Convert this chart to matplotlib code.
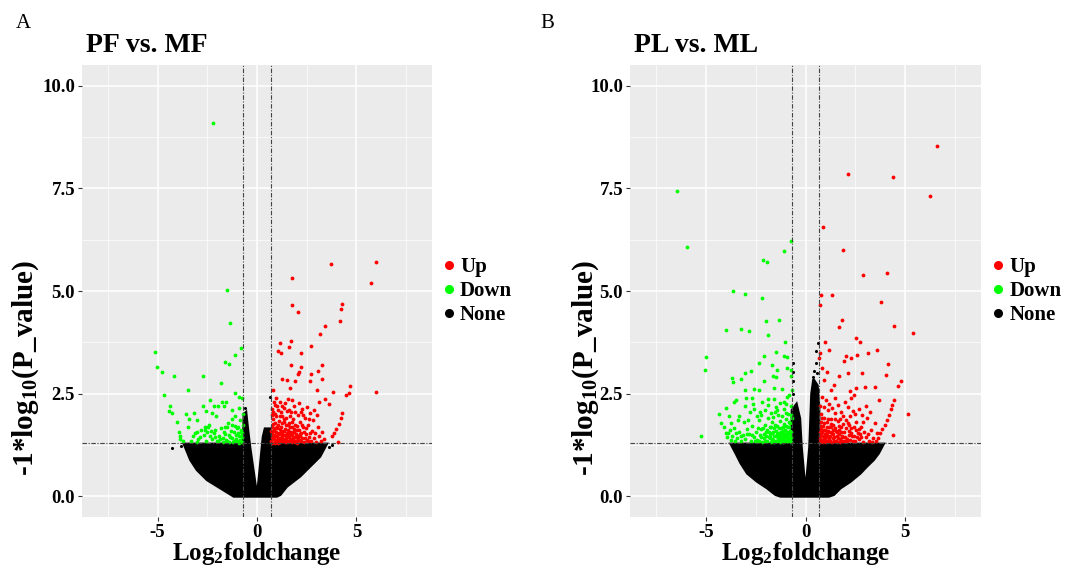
import matplotlib
matplotlib.use("Agg")
import matplotlib.pyplot as plt
from matplotlib.lines import Line2D

plt.rcParams['font.family'] = ['Liberation Serif', 'DejaVu Serif']
plt.rcParams['mathtext.fontset'] = 'custom'
plt.rcParams['mathtext.rm'] = 'Liberation Serif:bold'
plt.rcParams['mathtext.it'] = 'Liberation Serif:bold'
plt.rcParams['mathtext.bf'] = 'Liberation Serif:bold'
plt.rcParams['mathtext.default'] = 'rm'

# ---------------- data (log2 fold change, -log10 p) ----------------
titles = ["PF vs. MF", "PL vs. ML"]
panel_letters = ["A", "B"]
legend_labels = ["Up", "Down", "None"]
x_ticks = [-5, 0, 5]
y_ticks = [0.0, 2.5, 5.0, 7.5, 10.0]
fc_cut = 0.68
p_cut = 1.30

# Panel A : up-regulated
a_up = [(3.71, 5.66), (5.98, 5.70), (1.74, 5.31), (5.75, 5.19), (1.77, 4.66), (4.29, 4.68),
        (4.21, 4.56), (2.04, 4.48), (4.16, 4.28), (3.44, 4.15), (3.16, 3.96), (1.14, 3.73),
        (1.71, 3.79), (1.62, 3.63), (1.04, 3.53), (1.19, 3.49), (2.19, 3.49), (2.74, 3.66),
        (1.71, 3.19), (2.22, 3.14), (2.11, 3.04), (2.04, 2.98), (3.09, 3.06), (3.26, 3.19),
        (2.71, 2.98), (1.27, 2.87), (1.52, 2.83), (1.92, 2.81), (2.69, 2.80), (3.29, 2.87),
        (1.67, 2.63), (3.01, 2.58), (3.83, 2.53), (3.44, 2.37), (3.63, 2.24), (4.68, 2.69),
        (4.62, 2.51), (4.50, 2.47), (4.26, 2.04), (4.21, 1.90), (4.10, 1.76), (3.98, 1.65),
        (3.85, 1.54), (3.78, 1.46), (4.05, 1.32), (5.99, 2.53), (0.82, 2.59),
        (0.72, 1.35), (0.74, 1.52), (0.76, 1.70), (0.78, 1.88), (0.80, 2.05), (0.82, 1.42),
        (0.85, 1.61), (0.88, 1.33), (0.90, 1.79), (0.92, 2.22), (0.95, 1.48), (0.98, 1.95),
        (1.00, 1.38), (1.03, 1.66), (1.06, 2.10), (1.08, 1.31), (1.10, 1.55), (1.13, 1.84),
        (1.16, 1.43), (1.18, 2.30), (1.20, 1.70), (1.23, 1.35), (1.26, 1.96), (1.28, 1.58),
        (1.31, 1.40), (1.34, 1.82), (1.37, 2.15), (1.40, 1.50), (1.42, 1.33), (1.45, 1.73),
        (1.48, 1.92), (1.51, 1.45), (1.54, 1.62), (1.57, 2.38), (1.60, 1.36), (1.63, 1.78),
        (1.66, 1.52), (1.69, 2.05), (1.72, 1.41), (1.75, 1.68), (1.78, 1.32), (1.81, 1.88),
        (1.84, 1.56), (1.87, 2.20), (1.90, 1.44), (1.93, 1.75), (1.96, 1.34), (2.00, 1.62),
        (2.04, 1.98), (2.08, 1.48), (2.12, 1.38), (2.16, 1.80), (2.20, 1.55), (2.24, 2.12),
        (2.28, 1.42), (2.32, 1.68), (2.36, 1.33), (2.40, 1.90), (2.45, 1.52), (2.50, 1.38),
        (2.55, 1.74), (2.60, 1.45), (2.65, 2.02), (2.70, 1.35), (2.75, 1.60), (2.80, 1.85),
        (2.86, 1.42), (2.92, 1.55), (2.98, 1.32), (3.05, 1.70), (3.12, 1.46), (3.20, 1.36),
        (3.28, 1.58), (3.35, 1.40), (0.73, 1.44), (0.79, 1.60), (0.87, 1.50), (0.96, 1.58),
        (1.02, 1.46), (1.11, 1.37), (1.19, 1.52), (1.27, 1.46), (1.36, 1.60), (1.44, 1.39),
        (1.52, 1.55), (1.62, 1.47), (1.71, 1.58), (1.83, 1.38), (1.95, 1.52), (2.06, 1.40),
        (2.18, 1.48), (0.75, 1.98), (0.84, 2.30), (0.95, 2.40), (1.05, 1.75), (1.15, 1.95),
        (1.25, 2.20), (1.38, 1.88), (1.50, 2.08), (1.65, 1.95), (1.78, 2.35), (2.10, 2.28),
        (2.30, 1.98), (2.50, 2.18), (2.62, 1.88), (2.85, 2.10), (3.00, 1.98), (3.10, 2.30),
        (0.71, 1.60), (0.77, 1.31), (0.81, 1.76), (0.86, 1.39), (0.89, 1.67), (0.93, 1.30),
        (0.99, 1.70), (1.04, 1.52), (1.07, 1.42), (1.14, 1.65), (1.17, 1.32), (1.21, 1.60),
        (1.24, 1.78), (1.29, 1.34), (1.33, 1.50), (1.39, 1.36), (1.43, 1.64), (1.47, 1.47),
        (1.53, 1.32), (1.56, 1.74), (1.59, 1.58), (1.64, 1.40), (1.68, 1.70), (1.74, 1.49),
        (1.77, 1.80), (1.80, 1.42), (1.86, 1.64), (1.89, 1.33), (1.94, 1.44), (1.99, 1.72),
        (2.02, 1.31), (2.09, 1.62), (2.14, 1.52), (2.22, 1.34), (2.26, 1.74), (2.34, 1.58),
        (2.42, 1.42), (2.48, 1.66), (2.58, 1.34), (2.68, 1.54), (0.76, 2.14), (0.88, 2.00),
        (1.01, 2.20), (1.21, 2.05), (1.41, 2.28), (1.61, 2.10), (1.92, 2.06), (2.20, 2.05)]

# Panel A : down-regulated
a_down = [(-2.21, 9.09), (-1.50, 5.03), (-1.34, 4.22), (-5.15, 3.51), (-5.05, 3.16),
          (-4.80, 3.02), (-4.15, 2.94), (-2.73, 2.94), (-0.82, 3.62), (-1.12, 3.44),
          (-1.59, 3.27), (-1.42, 3.23), (-1.82, 2.76), (-3.48, 2.59), (-4.70, 2.46),
          (-1.09, 2.51), (-0.89, 2.43), (-4.40, 2.21), (-4.45, 2.07), (-4.25, 2.02),
          (-4.01, 1.80), (-3.91, 1.58), (-3.85, 1.46), (-3.58, 2.01), (-3.18, 2.02),
          (-3.44, 1.89), (-3.01, 1.85), (-2.37, 2.35), (-2.17, 2.20), (-1.76, 2.31),
          (-1.67, 2.19), (-1.97, 2.19), (-2.54, 2.07), (-2.24, 2.02), (-0.72, 2.00),
          (-1.12, 1.97), (-1.25, 1.88), (-2.61, 1.70), (-2.44, 1.70), (-2.51, 1.58),
          (-3.24, 1.48), (-3.03, 1.32), (-2.88, 1.44), (-2.34, 1.46), (-2.09, 1.62),
          (-1.97, 1.34), (-1.67, 1.58), (-1.51, 1.70), (-1.42, 1.50), (-1.25, 1.42),
          (-1.17, 1.58), (-1.00, 1.66), (-0.92, 1.46), (-0.84, 1.38), (-0.75, 1.54),
          (-1.00, 1.34), (-1.51, 1.34), (-3.85, 1.40), (-0.75, 1.32), (-0.80, 1.48),
          (-0.78, 1.62), (-0.88, 1.35), (-0.95, 1.55), (-1.05, 1.40), (-1.10, 1.72),
          (-1.20, 1.33), (-1.30, 1.60), (-1.35, 1.45), (-1.45, 1.78), (-1.55, 1.38),
          (-1.60, 1.52), (-1.72, 1.42), (-1.80, 1.66), (-1.90, 1.48), (-2.00, 1.35),
          (-2.15, 1.55), (-2.25, 1.40), (-2.40, 1.75), (-2.55, 1.36), (-2.65, 1.50),
          (-2.80, 1.62), (-2.95, 1.40), (-3.10, 1.55), (-3.30, 1.35), (-3.45, 1.70),
          (-3.70, 1.34), (-0.85, 1.85), (-1.25, 2.10), (-1.55, 2.30), (-2.05, 1.95),
          (-2.70, 2.20), (-0.72, 1.75), (-0.92, 2.15), (-0.74, 2.40),
          (-0.73, 1.45), (-0.82, 1.58), (-0.90, 1.30), (-0.98, 1.70), (-1.08, 1.50),
          (-1.15, 1.36), (-1.28, 1.74), (-1.40, 1.32), (-1.62, 1.68), (-1.70, 1.32),
          (-1.85, 1.40), (-2.10, 1.44), (-2.30, 1.60), (-2.60, 1.62), (-3.00, 1.58)]

# Panel A : dense non-significant cloud (outline) and scattered non-significant points
a_none_env_x = [-3.68, -0.70, -0.66, -0.55, -0.45, -0.35, -0.03, 0.03, 0.30, 0.40, 0.66,
                0.70, 3.51, 3.17, 2.67, 2.17, 1.50, 1.17, 1.00, -1.17, -1.84, -2.51,
                -3.02, -3.35]
a_none_env_y = [1.28, 1.28, 2.00, 2.05, 1.60, 1.20, 0.12, 0.12, 1.45, 1.65, 1.65,
                1.28, 1.28, 0.97, 0.73, 0.49, 0.24, 0.04, 0.00, 0.00, 0.20, 0.40,
                0.645, 0.89]
a_none = [(-4.26, 1.17), (0.64, 2.43), (-0.62, 2.00), (-0.64, 1.75), (-0.58, 2.15),
          (3.60, 1.20), (3.75, 1.25), (-3.80, 1.22)]

# Panel B : up-regulated
b_up = [(6.57, 8.53), (2.13, 7.84), (4.38, 7.77), (6.23, 7.32), (0.87, 6.55), (1.87, 5.99),
        (2.87, 5.38), (4.07, 5.44), (0.77, 4.90), (1.35, 4.90), (3.80, 4.73), (0.72, 4.65),
        (0.98, 3.76), (1.18, 3.57), (0.75, 3.49), (0.70, 3.36), (1.70, 4.12), (1.83, 4.30),
        (2.52, 3.85), (2.72, 3.75), (3.15, 3.50), (3.60, 3.56), (4.45, 4.14), (5.40, 3.98),
        (2.02, 3.42), (2.28, 3.38), (2.60, 3.44), (1.92, 3.30), (0.85, 3.13), (1.08, 3.04),
        (1.67, 2.92), (2.12, 3.01), (2.82, 3.00), (4.13, 3.23), (4.02, 2.96), (4.80, 2.81),
        (4.63, 2.69), (5.12, 2.01), (4.40, 1.50), (0.92, 2.84), (1.42, 2.72), (1.30, 2.59),
        (2.52, 2.65), (3.00, 2.66), (3.50, 2.66), (2.25, 2.57), (2.42, 2.47), (3.68, 2.35),
        (4.42, 2.35), (4.33, 2.23), (4.28, 2.12), (4.17, 1.98), (4.07, 1.86), (3.97, 1.74),
        (3.85, 1.64), (3.75, 1.54), (3.65, 1.42), (3.55, 1.34),
        (0.72, 1.33), (0.74, 1.48), (0.76, 1.65), (0.78, 1.82), (0.80, 2.00), (0.82, 1.38),
        (0.85, 1.56), (0.88, 1.72), (0.90, 1.35), (0.93, 1.92), (0.96, 1.45), (1.00, 1.62),
        (1.03, 1.33), (1.06, 1.80), (1.10, 1.50), (1.13, 2.10), (1.16, 1.40), (1.20, 1.68),
        (1.24, 1.34), (1.28, 1.88), (1.32, 1.55), (1.36, 1.42), (1.40, 1.75), (1.44, 1.36),
        (1.48, 2.02), (1.52, 1.60), (1.56, 1.46), (1.60, 1.33), (1.65, 1.84), (1.70, 1.52),
        (1.75, 1.40), (1.80, 1.70), (1.85, 1.35), (1.90, 1.95), (1.95, 1.58), (2.00, 1.44),
        (2.06, 1.34), (2.12, 1.78), (2.18, 1.50), (2.24, 1.38), (2.30, 1.66), (2.36, 2.08),
        (2.42, 1.46), (2.48, 1.35), (2.55, 1.82), (2.62, 1.55), (2.70, 1.40), (2.78, 1.70),
        (2.86, 1.33), (2.94, 1.58), (3.02, 1.45), (3.10, 1.90), (3.20, 1.36), (3.30, 1.62),
        (3.40, 1.42), (3.50, 1.78), (3.60, 1.55), (0.73, 2.20), (0.84, 2.42), (0.92, 2.18),
        (1.02, 2.35), (1.18, 2.25), (1.34, 2.15), (1.46, 2.40), (1.62, 2.22), (1.78, 2.05),
        (1.96, 2.30), (2.14, 2.18), (2.28, 2.40), (2.46, 2.00), (2.66, 2.12), (2.85, 1.98),
        (3.05, 2.20), (3.25, 2.05), (0.75, 1.40), (0.86, 1.46), (0.98, 1.38), (1.08, 1.58),
        (1.22, 1.46), (1.38, 1.62), (1.54, 1.36), (1.68, 1.62), (1.82, 1.48), (1.98, 1.36),
        (2.16, 1.60), (2.34, 1.48), (2.52, 1.62), (2.72, 1.52), (0.80, 1.55), (0.95, 1.78),
        (1.12, 1.88), (1.30, 1.70), (1.50, 1.88), (1.72, 1.88), (2.02, 1.85), (2.22, 1.95),
        (0.71, 1.56), (0.77, 1.36), (0.79, 1.72), (0.83, 1.90), (0.87, 1.33), (0.91, 1.62),
        (0.94, 1.40), (0.99, 1.52), (1.04, 1.44), (1.07, 1.70), (1.11, 1.34), (1.15, 1.60),
        (1.19, 1.42), (1.23, 1.56), (1.26, 1.76), (1.34, 1.32), (1.37, 1.52), (1.42, 1.44),
        (1.47, 1.66), (1.51, 1.34), (1.58, 1.56), (1.63, 1.42), (1.67, 1.72), (1.73, 1.32),
        (1.78, 1.58), (1.84, 1.44), (1.88, 1.76), (1.93, 1.34), (2.04, 1.66), (2.10, 1.40),
        (2.20, 1.74), (2.27, 1.54), (2.38, 1.36), (2.44, 1.70), (2.58, 1.44), (2.66, 1.64),
        (2.80, 1.44), (2.90, 1.80), (3.15, 1.52), (3.35, 1.32)]

# Panel B : down-regulated
b_down = [(-6.45, 7.44), (-5.95, 6.06), (-0.73, 6.21), (-1.10, 5.98), (-2.13, 5.75),
          (-1.93, 5.71), (-3.62, 4.99), (-3.05, 4.93), (-2.17, 4.82), (-4.00, 4.05),
          (-3.22, 4.08), (-2.83, 4.03), (-1.97, 4.27), (-1.32, 4.30), (-1.88, 3.92),
          (-1.02, 3.77), (-1.50, 3.52), (-1.08, 3.42), (-0.92, 3.40), (-2.08, 3.42),
          (-5.00, 3.40), (-5.02, 3.08), (-5.22, 1.46), (-2.33, 3.24), (-2.75, 3.06),
          (-3.02, 3.01), (-3.70, 2.89), (-3.63, 2.78), (-3.22, 2.85), (-1.67, 3.20),
          (-1.42, 3.08), (-1.62, 2.92), (-1.50, 2.90), (-0.92, 3.12), (-0.75, 3.08),
          (-0.75, 2.92), (-2.08, 2.80), (-2.33, 2.59), (-2.58, 2.61), (-3.05, 2.59),
          (-3.50, 2.35), (-2.97, 2.39), (-2.67, 2.39), (-1.87, 2.38), (-1.58, 2.63),
          (-1.18, 2.61), (-1.08, 2.31), (-0.92, 2.43), (-3.98, 2.15), (-4.33, 2.00),
          (-3.33, 1.97), (-3.03, 2.19), (-2.58, 2.12), (-2.25, 1.98), (-1.65, 1.93),
          (-1.42, 2.11), (-1.00, 2.02), (-0.75, 1.98), (-4.25, 1.78), (-3.75, 1.78),
          (-3.58, 1.66), (-3.87, 1.54), (-3.75, 1.38),
          (-0.72, 1.32), (-0.75, 1.45), (-0.78, 1.60), (-0.80, 1.78), (-0.83, 1.38),
          (-0.86, 1.52), (-0.90, 1.70), (-0.93, 1.34), (-0.96, 1.88), (-1.00, 1.46),
          (-1.03, 1.62), (-1.06, 1.36), (-1.10, 1.76), (-1.13, 1.50), (-1.16, 1.95),
          (-1.20, 1.40), (-1.23, 1.66), (-1.27, 1.32), (-1.30, 1.84), (-1.34, 1.55),
          (-1.38, 1.43), (-1.42, 1.72), (-1.46, 1.35), (-1.50, 1.60), (-1.54, 2.05),
          (-1.58, 1.47), (-1.62, 1.37), (-1.66, 1.80), (-1.70, 1.55), (-1.75, 1.33),
          (-1.80, 1.68), (-1.85, 1.44), (-1.90, 1.92), (-1.95, 1.36), (-2.00, 1.58),
          (-2.05, 1.75), (-2.10, 1.42), (-2.16, 1.33), (-2.22, 1.63), (-2.28, 1.50),
          (-2.35, 1.86), (-2.42, 1.38), (-2.50, 1.56), (-2.58, 1.44), (-2.66, 1.72),
          (-2.75, 1.35), (-2.84, 1.52), (-2.93, 1.64), (-3.02, 1.40), (-3.12, 1.50),
          (-3.22, 1.34), (-3.32, 1.58), (-3.42, 1.42), (-3.55, 1.36), (-3.68, 1.48),
          (-3.80, 1.62), (-3.95, 1.45), (-4.10, 1.70), (-0.74, 2.20), (-0.88, 2.00),
          (-0.98, 2.25), (-1.08, 2.12), (-1.18, 1.55), (-1.28, 2.28), (-1.36, 1.98),
          (-1.48, 2.18), (-1.60, 2.38), (-1.72, 2.02), (-1.88, 2.22), (-2.02, 2.10),
          (-2.20, 2.30), (-2.30, 2.05), (-2.45, 1.95), (-2.62, 2.25), (-2.80, 2.05),
          (-2.90, 1.85), (-3.10, 1.80), (-3.40, 1.85), (-3.60, 2.30), (-3.85, 1.95),
          (-0.76, 1.40), (-0.82, 1.68), (-0.92, 1.42), (-1.02, 1.34), (-1.12, 1.60),
          (-1.22, 1.48), (-1.32, 1.38), (-1.44, 1.52), (-1.56, 1.66), (-1.68, 1.40),
          (-1.78, 1.50), (-1.92, 1.62), (-2.08, 1.52), (-2.25, 1.45), (-0.70, 1.90),
          (-0.70, 2.60), (-0.85, 2.48),
          (-0.71, 1.56), (-0.77, 1.34), (-0.79, 1.50), (-0.84, 1.80), (-0.87, 1.42),
          (-0.91, 1.58), (-0.95, 1.36), (-0.99, 1.72), (-1.04, 1.52), (-1.07, 1.42),
          (-1.11, 1.32), (-1.15, 1.68), (-1.19, 1.46), (-1.24, 1.56), (-1.26, 1.40),
          (-1.33, 1.66), (-1.37, 1.50), (-1.41, 1.36), (-1.47, 1.46), (-1.52, 1.74),
          (-1.57, 1.33), (-1.64, 1.56), (-1.72, 1.68), (-1.77, 1.42), (-1.83, 1.56),
          (-1.97, 1.46), (-2.04, 1.34), (-2.12, 1.66), (-2.32, 1.36), (-2.40, 1.66),
          (-2.55, 1.34), (-2.70, 1.50), (-2.95, 1.52), (-3.25, 1.46), (-3.50, 1.55),
          (-4.00, 1.55)]

# Panel B : dense non-significant cloud (outline) and scattered non-significant points
b_none_env_x = [-3.75, -0.70, -0.68, -0.45, -0.28, -0.20, -0.03, 0.03, 0.20, 0.30, 0.40,
                0.60, 0.68, 0.70, 3.92, 3.67, 3.42, 3.08, 2.75, 2.25, 1.75, 1.42, 1.17,
                -1.25, -1.50, -1.92, -2.42, -2.92, -3.25, -3.50]
b_none_env_y = [1.28, 1.28, 2.10, 2.25, 1.90, 1.20, 0.28, 0.28, 1.20, 2.50, 2.85,
                2.70, 2.20, 1.28, 1.28, 1.05, 0.89, 0.73, 0.56, 0.36, 0.20, 0.04, 0.00,
                0.00, 0.04, 0.20, 0.36, 0.56, 0.81, 1.05]
b_none = [(-0.63, 3.24), (-0.63, 3.04), (-0.63, 2.80), (-0.62, 2.50), (0.53, 3.53),
          (0.63, 3.73), (0.52, 3.25), (0.45, 3.05), (0.38, 2.90), (0.58, 3.00)]

panels = [
    dict(up=a_up, down=a_down, none=a_none, env=(a_none_env_x, a_none_env_y)),
    dict(up=b_up, down=b_down, none=b_none, env=(b_none_env_x, b_none_env_y)),
]

colors = {"Up": "#FF0000", "Down": "#00FF00", "None": "#000000"}

# ---------------- figure ----------------
W, H = 1066, 570
fig = plt.figure(figsize=(W / 100, H / 100), dpi=100)

ax_boxes = [(82, 432), (630, 981)]
ax_top, ax_bot = 65, 517
ylabel_x = [-0.118, -0.082]
letter_x = [16, 540]

for i, (pdata, (l, r)) in enumerate(zip(panels, ax_boxes)):
    ax = fig.add_axes([l / W, 1 - ax_bot / H, (r - l) / W, (ax_bot - ax_top) / H])
    ax.set_facecolor("#EBEBEB")
    for s in ax.spines.values():
        s.set_visible(False)
    ax.set_xlim(-8.8, 8.8)
    ax.set_ylim(-0.5, 10.5)
    ax.set_xticks(x_ticks)
    ax.set_xticklabels([str(t) for t in x_ticks])
    ax.set_yticks(y_ticks)
    ax.set_yticklabels([f"{t:.1f}" for t in y_ticks])
    ax.set_xticks([-7.5, -2.5, 2.5, 7.5], minor=True)
    ax.set_yticks([1.25, 3.75, 6.25, 8.75], minor=True)
    ax.grid(which="major", color="white", lw=1.1, zorder=0)
    ax.grid(which="minor", color="white", lw=0.5, zorder=0)
    ax.set_axisbelow(True)
    ax.tick_params(which="major", length=3, width=0.8, color="#333333", pad=2,
                   labelsize=13.5, labelcolor="black")
    ax.tick_params(which="minor", length=0)
    for lab in ax.get_xticklabels() + ax.get_yticklabels():
        lab.set_fontweight("bold")

    # non-significant cloud
    ex, ey = pdata["env"]
    ax.fill(ex, ey, color="black", lw=1.8, zorder=2)
    nx = [p[0] for p in pdata["none"]]
    ny = [p[1] for p in pdata["none"]]
    ax.scatter(nx, ny, s=5, color="black", lw=0, zorder=2)
    for key, lab in (("down", "Down"), ("up", "Up")):
        px = [p[0] for p in pdata[key]]
        py = [p[1] for p in pdata[key]]
        ax.scatter(px, py, s=7.5, color=colors[lab], lw=0, zorder=3)

    ls = (0, (4, 1.5, 1, 1.5))
    ax.axvline(-fc_cut, color="#444444", lw=0.8, ls=ls, zorder=4)
    ax.axvline(fc_cut, color="#444444", lw=0.8, ls=ls, zorder=4)
    ax.axhline(p_cut, color="#444444", lw=0.8, ls=ls, zorder=4)

    ax.set_xlabel(r"Log$_2$foldchange", fontsize=18, fontweight="bold")
    ax.xaxis.set_label_coords(0.5, -0.05)
    ax.set_ylabel(r"-1*log$_{10}$(P_value)", fontsize=21, fontweight="bold")
    ax.yaxis.set_label_coords(ylabel_x[i], 0.33)
    ax.set_title(titles[i], loc="left", fontsize=20, fontweight="bold", pad=9, x=0.012)

    handles = [Line2D([], [], marker="o", ls="", color=colors[k], markersize=5.5, label=k)
               for k in legend_labels]
    ax.legend(handles=handles, loc="center left", bbox_to_anchor=(1.0, 0.5), frameon=False,
              prop={"weight": "bold", "size": 15}, handletextpad=0.15, labelspacing=0.2,
              handlelength=0.8, borderaxespad=0.1, borderpad=0.3)

    fig.text(letter_x[i] / W, 1 - 28 / H, panel_letters[i], fontsize=15, va="baseline")

fig.savefig("out.png", dpi=100)
